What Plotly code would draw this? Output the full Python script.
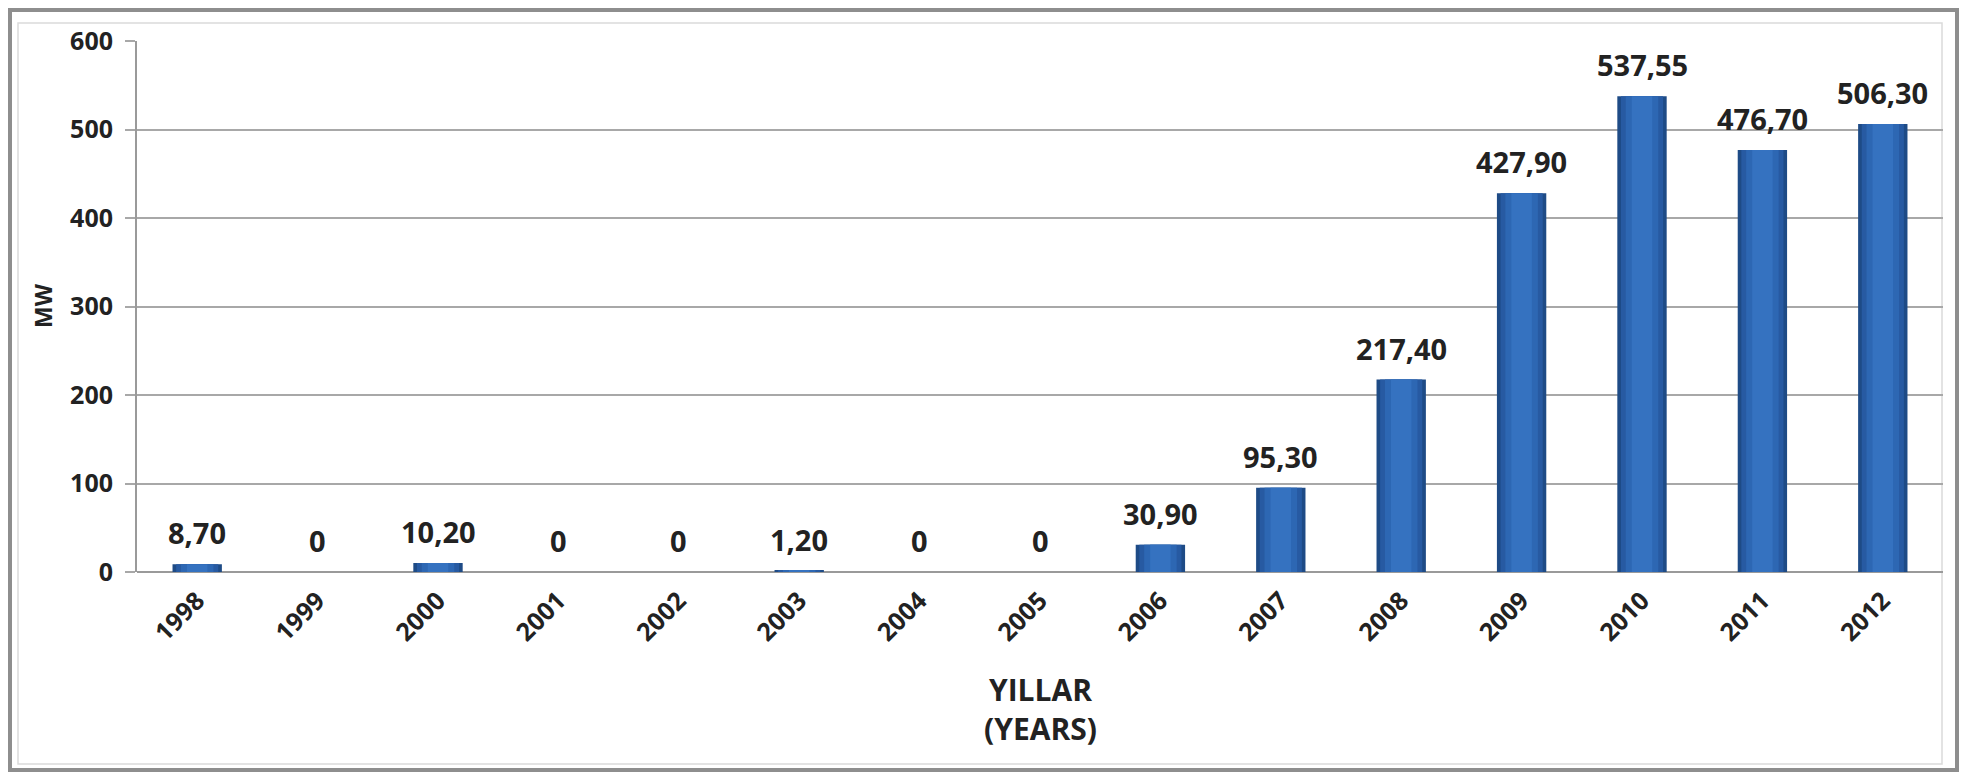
import plotly.graph_objects as go

years = ["1998", "1999", "2000", "2001", "2002", "2003", "2004", "2005",
         "2006", "2007", "2008", "2009", "2010", "2011", "2012"]
mw = [8.70, 0, 10.20, 0, 0, 1.20, 0, 0, 30.90, 95.30, 217.40, 427.90, 537.55, 476.70, 506.30]
y_ticks = [0, 100, 200, 300, 400, 500, 600]


def fmt(v):
    return "0" if v == 0 else f"{v:.2f}".replace(".", ",")


labels = [fmt(v) for v in mw]

W, H = 1964, 774
L, R, T, B = 137, 21, 41, 202
PW, PH = W - L - R, H - T - B


def px(x):
    return (x - L) / PW


def py(y):
    return (H - B - y) / PH


FONT = "Open Sans"
TXT = "#222222"

fig = go.Figure()
# layered bars to mimic the shaded (darker edges, lighter centre) look
for width, color in [(0.41, "#1E4B86"), (0.35, "#275AA2"), (0.27, "#2D67B3"), (0.17, "#3572C0")]:
    fig.add_trace(go.Bar(x=years, y=mw, width=width, marker=dict(color=color, line=dict(width=0)),
                         hoverinfo="skip", showlegend=False))

# category axis: annotation x given as category index
for i, (v, t) in enumerate(zip(mw, labels)):
    fig.add_annotation(x=i, y=v, text=t, showarrow=False, yanchor="bottom", yshift=10,
                       font=dict(family=FONT, size=29, color=TXT, weight="bold"))

fig.add_annotation(xref="paper", yref="paper", x=px(1040), y=py(709), text="YILLAR<br>(YEARS)",
                   showarrow=False, xanchor="center", yanchor="middle",
                   font=dict(family=FONT, size=30, color=TXT, weight="bold"))
fig.add_annotation(xref="paper", yref="paper", x=px(43), y=py(306), text="MW", textangle=-90,
                   showarrow=False, xanchor="center", yanchor="middle",
                   font=dict(family=FONT, size=23, color=TXT, weight="bold"))

# outer frame and inner frame
fig.add_shape(type="rect", xref="paper", yref="paper", x0=px(10), x1=px(1957), y0=py(770), y1=py(10),
              line=dict(color="#8E8E8E", width=4), layer="above")
fig.add_shape(type="rect", xref="paper", yref="paper", x0=px(18), x1=px(1942), y0=py(764), y1=py(23),
              line=dict(color="#DADADA", width=1.5), layer="below")

fig.update_layout(
    width=W, height=H,
    margin=dict(l=L, r=R, t=T, b=B),
    paper_bgcolor="white", plot_bgcolor="white",
    barmode="overlay",
    showlegend=False,
    font=dict(family=FONT, color=TXT),
)
fig.update_xaxes(
    type="category", tickangle=-45, range=[-0.5, len(years) - 0.5],
    tickfont=dict(family=FONT, size=25, color=TXT, weight="bold"),
    showgrid=False, showline=False, ticks="", ticklabelstandoff=8,
)
fig.update_yaxes(
    range=[0, 600], tickvals=y_ticks, ticktext=[str(v) for v in y_ticks],
    tickfont=dict(family=FONT, size=25, color=TXT, weight="bold"),
    showgrid=True, gridcolor="#A8A8A8", gridwidth=2,
    showline=True, linecolor="#9A9A9A", linewidth=2,
    ticks="outside", ticklen=10, tickcolor="#A8A8A8", tickwidth=2,
    zeroline=True, zerolinecolor="#9A9A9A", zerolinewidth=2,
    ticklabelstandoff=7,
)

fig.write_html("out.html", config={"displayModeBar": False},
               post_script="document.body.style.margin='0';")
